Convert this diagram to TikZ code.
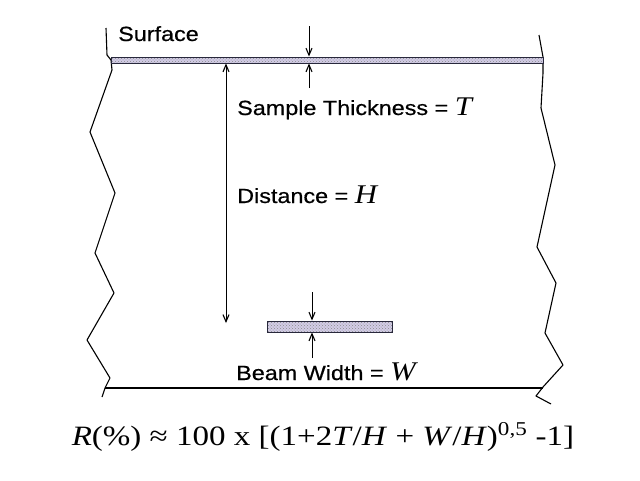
\documentclass[tikz,border=0pt]{standalone}
\usepackage{fontspec}
\setmainfont{Liberation Serif}
\setsansfont{Liberation Sans}
\newfontfamily\lblfont[FakeBold=0.5]{Liberation Sans}
\usetikzlibrary{arrows.meta,patterns}
\definecolor{platefill}{RGB}{210,204,230}
\definecolor{plateedge}{RGB}{40,40,60}
\tikzset{
  edgeline/.style={line width=1.1pt, line join=round},
  plate/.style={draw=plateedge, line width=0.9pt, rectangle, inner sep=0pt,
    preaction={fill=platefill}, pattern=crosshatch dots, pattern color=gray!90},
  arr/.style={line width=0.9pt, -{Straight Barb[length=7pt,width=6pt,line width=1.1pt]}},
  darr/.style={line width=0.9pt, {Straight Barb[length=7pt,width=6pt,line width=1.1pt]}-{Straight Barb[length=7pt,width=6pt,line width=1.1pt]}},
  lbl/.style={anchor=base west, inner sep=0pt, font=\lblfont\fontsize{20.5}{24}\selectfont, xscale=1.14},
  formula/.style={anchor=base, inner sep=0pt, font=\rmfamily\fontsize{28}{32}\selectfont, xscale=1.18}
}
\newcommand{\symb}[1]{{\rmfamily\itshape\fontsize{27}{30}\selectfont #1}}
\begin{document}
\begin{tikzpicture}[x=1pt,y=-1pt]
\useasboundingbox (0,0) rectangle (640,480);
% jagged side edges
\draw[edgeline] (106,28) -- (107,55) -- (111,60) -- (112,70) -- (90,132) -- (115,193) -- (95,253) -- (114,293) -- (87,340) -- (110,378) -- (105,388) -- (102,397);
\draw[edgeline] (539,35) -- (543,57) -- (543,73) -- (541,108) -- (555,165) -- (537,247) -- (556,283) -- (545,333) -- (563,365) -- (543,387) -- (536,396) -- (551,404);
% bottom line
\coordinate (bl) at (105,388);
\coordinate (br) at (543,388);
\draw[line width=1.4pt] (bl) -- (br);
% plates
\node[plate, minimum width=432pt, minimum height=6pt] (top) at (327,60) {};
\node[plate, minimum width=125pt, minimum height=11pt] (beam) at (329.5,326.5) {};
% thickness arrows
\coordinate (t1) at (309,26);
\coordinate (t2) at (309,88);
\draw[arr] (t1) -- (t1 |- top.north);
\draw[arr] (t2) -- (t2 |- top.south);
% distance arrow
\coordinate (d2) at (226,323);
\draw[darr] (d2 |- top.south) -- (d2);
% beam width arrows
\coordinate (w1) at (312,292);
\coordinate (w2) at (312,358);
\draw[arr] (w1) -- (w1 |- beam.north);
\draw[arr] (w2) -- (w2 |- beam.south);
% labels
\node[lbl] (surf) at (118,41) {Surface};
\node[lbl] (thick) at (237,115) {Sample Thickness = \symb{T}};
\node[lbl] (dist) at (237,203) {Distance = \symb{H}};
\node[lbl] (beamw) at (236,380) {Beam Width = \symb{W}};
\node[formula] (form) at (323,445) {\textit{R}(\%) ≈ 100 x [(1+2\textit{T}/\textit{H} + \textit{W}/\textit{H})\textsuperscript{0,5} -1]};
\end{tikzpicture}
\end{document}
